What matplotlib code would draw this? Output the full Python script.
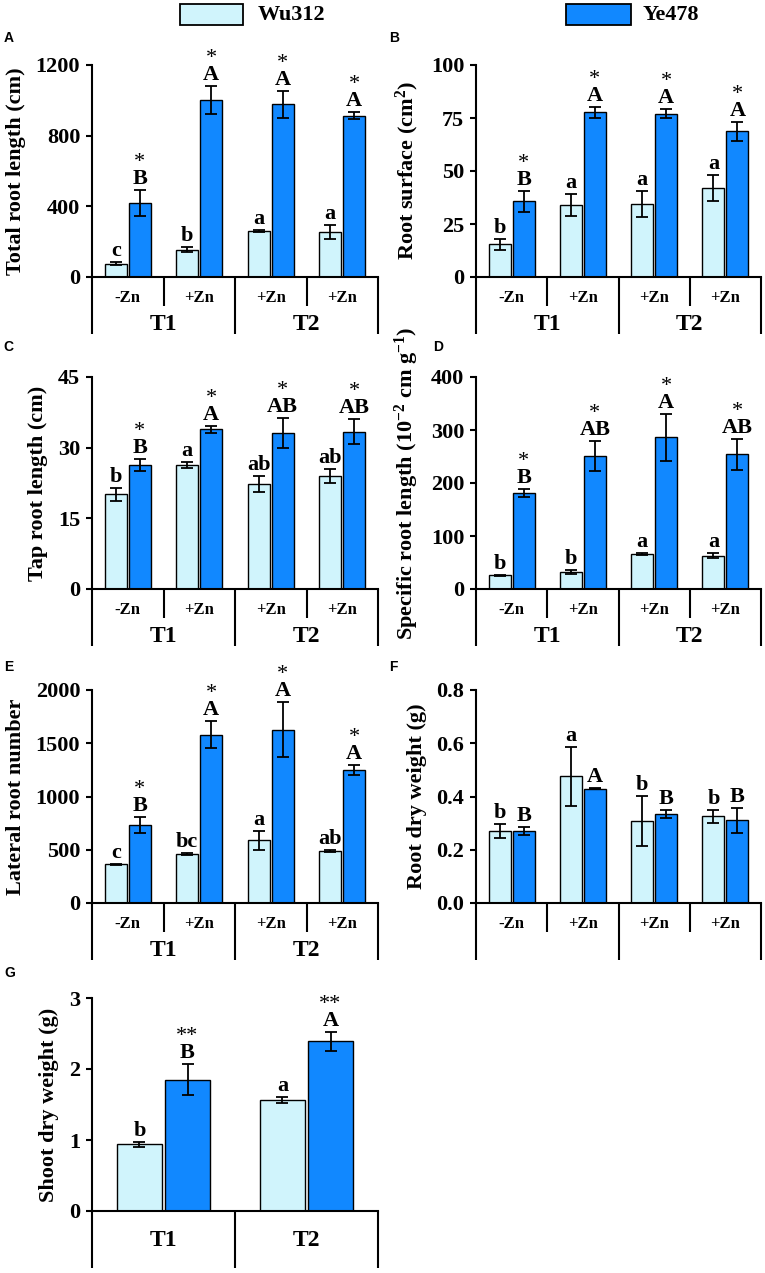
import matplotlib
matplotlib.use('Agg')
import matplotlib.pyplot as plt
import matplotlib.transforms as mtransforms
from matplotlib.patches import Rectangle
import numpy as np

plt.rcParams['font.family'] = ['Liberation Serif', 'DejaVu Serif']
plt.rcParams['font.weight'] = 'bold'
plt.rcParams['mathtext.default'] = 'regular'

W, H = 765, 1273
fig = plt.figure(figsize=(W / 100, H / 100), dpi=100)

LIGHT = '#D0F4FC'
DARK = '#1188FF'

series_names = ['Wu312', 'Ye478']
treat_labels = ['-Zn', '+Zn', '+Zn', '+Zn']
time_labels = ['T1', 'T2']

# ---- Panel A: Total root length (cm)
a_wu = [75, 155, 262, 255]
a_wu_err = [8, 15, 5, 38]
a_ye = [420, 1000, 977, 912]
a_ye_err = [75, 80, 75, 20]
a_wu_let = ['c', 'b', 'a', 'a']
a_ye_let = ['B', 'A', 'A', 'A']
a_stars = ['*', '*', '*', '*']
a_ticks = [0, 400, 800, 1200]

# ---- Panel B: Root surface (cm2)
b_wu = [15.5, 34, 34.5, 42]
b_wu_err = [2.6, 5, 6, 6]
b_ye = [35.8, 77.8, 77, 68.8]
b_ye_err = [5, 2.6, 2.2, 4.5]
b_wu_let = ['b', 'a', 'a', 'a']
b_ye_let = ['B', 'A', 'A', 'A']
b_stars = ['*', '*', '*', '*']
b_ticks = [0, 25, 50, 75, 100]

# ---- Panel C: Tap root length (cm)
c_wu = [20.1, 26.3, 22.3, 24.0]
c_wu_err = [1.4, 0.7, 1.7, 1.4]
c_ye = [26.3, 33.9, 33.1, 33.4]
c_ye_err = [1.3, 0.7, 3.2, 2.6]
c_wu_let = ['b', 'a', 'ab', 'ab']
c_ye_let = ['B', 'A', 'AB', 'AB']
c_stars = ['*', '*', '*', '*']
c_ticks = [0, 15, 30, 45]

# ---- Panel D: Specific root length
d_wu = [26, 32, 66, 63]
d_wu_err = [1, 4, 1, 5]
d_ye = [181, 251, 286, 254]
d_ye_err = [8, 28, 44, 29]
d_wu_let = ['b', 'b', 'a', 'a']
d_ye_let = ['B', 'AB', 'A', 'AB']
d_stars = ['*', '*', '*', '*']
d_ticks = [0, 100, 200, 300, 400]

# ---- Panel E: Lateral root number
e_wu = [362, 462, 588, 488]
e_wu_err = [8, 10, 88, 8]
e_ye = [735, 1580, 1628, 1245]
e_ye_err = [75, 125, 260, 47]
e_wu_let = ['c', 'bc', 'a', 'ab']
e_ye_let = ['B', 'A', 'A', 'A']
e_stars = ['*', '*', '*', '*']
e_ticks = [0, 500, 1000, 1500, 2000]

# ---- Panel F: Root dry weight (g)
f_wu = [0.271, 0.476, 0.307, 0.326]
f_wu_err = [0.025, 0.111, 0.094, 0.025]
f_ye = [0.271, 0.430, 0.334, 0.310]
f_ye_err = [0.015, 0.003, 0.015, 0.046]
f_wu_let = ['b', 'a', 'b', 'b']
f_ye_let = ['B', 'A', 'B', 'B']
f_stars = ['', '', '', '']
f_ticks = [0.0, 0.2, 0.4, 0.6, 0.8]

# ---- Panel G: Shoot dry weight (g)
g_wu = [0.94, 1.56]
g_wu_err = [0.035, 0.04]
g_ye = [1.85, 2.39]
g_ye_err = [0.22, 0.13]
g_wu_let = ['b', 'a']
g_ye_let = ['B', 'A']
g_stars = ['**', '**']
g_ticks = [0, 1, 2, 3]

OFF = 0.168
BW = 0.31


def make_ax(x0, x1, ytop, yzero):
    return fig.add_axes([x0 / W, 1 - yzero / H, (x1 - x0) / W, (yzero - ytop) / H])


def panel(ax, hpx, wu, wu_err, ye, ye_err, wu_let, ye_let, stars, ticks, ticklabels,
          ylabel, xlabels, tlabels, seps_short, seps_long, label_y_off, t_y_off):
    n = len(wu)
    x = np.arange(n)
    ax.bar(x - OFF, wu, BW, color=LIGHT, edgecolor='black', linewidth=1.0, zorder=2)
    ax.bar(x + OFF, ye, BW, color=DARK, edgecolor='black', linewidth=1.0, zorder=2)
    ax.errorbar(x - OFF, wu, yerr=wu_err, fmt='none', ecolor='black', elinewidth=1.3,
                capsize=4.5, capthick=1.3, zorder=3)
    ax.errorbar(x + OFF, ye, yerr=ye_err, fmt='none', ecolor='black', elinewidth=1.3,
                capsize=4.5, capthick=1.3, zorder=3)
    let_tr = mtransforms.offset_copy(ax.transData, fig=fig, y=6, units='dots')
    star_tr = mtransforms.offset_copy(ax.transData, fig=fig, y=23, units='dots')
    for i in range(n):
        ax.text(x[i] - OFF, wu[i] + wu_err[i], wu_let[i], transform=let_tr, ha='center',
                va='baseline', fontsize=16, fontweight='bold', clip_on=False)
        ax.text(x[i] + OFF, ye[i] + ye_err[i], ye_let[i], transform=let_tr, ha='center',
                va='baseline', fontsize=16, fontweight='bold', clip_on=False)
        if stars[i]:
            ax.text(x[i] + OFF, ye[i] + ye_err[i], stars[i], transform=star_tr, ha='center',
                    va='baseline', fontsize=16, fontweight='normal', clip_on=False)
    ax.set_xlim(-0.5, n - 0.5)
    ax.set_ylim(ticks[0], ticks[-1])
    ax.set_yticks(ticks)
    ax.set_yticklabels(ticklabels)
    ax.set_xticks([])
    for s in ['top', 'right']:
        ax.spines[s].set_visible(False)
    for s in ['left', 'bottom']:
        ax.spines[s].set_linewidth(1.5)
    ax.tick_params(axis='y', direction='out', length=4.5, width=1.5, labelsize=16, pad=4)
    for lab in ax.get_yticklabels():
        lab.set_fontweight('bold')
    ax.set_ylabel(ylabel, fontsize=16, fontweight='bold', labelpad=7)
    bl = mtransforms.blended_transform_factory(ax.transData, ax.transAxes)
    for xs in seps_short:
        ax.plot([xs, xs], [0, -29 / hpx], transform=bl, color='black', lw=1.5,
                clip_on=False, solid_capstyle='butt')
    for xs in seps_long:
        ax.plot([xs, xs], [0, -57 / hpx], transform=bl, color='black', lw=1.5,
                clip_on=False, solid_capstyle='butt')
    lab_tr = mtransforms.offset_copy(bl, fig=fig, y=-label_y_off, units='dots')
    for xi, t in xlabels:
        ax.text(xi, 0, t, transform=lab_tr, ha='center', va='center', fontsize=12,
                fontweight='bold')
    t_tr = mtransforms.offset_copy(bl, fig=fig, y=-t_y_off, units='dots')
    for xi, t in tlabels:
        ax.text(xi, 0, t, transform=t_tr, ha='center', va='center', fontsize=17,
                fontweight='bold')
    ax.set_xlim(-0.5, n - 0.5)
    ax.set_ylim(ticks[0], ticks[-1])


LX0, LX1 = 92, 378
RX0, RX1 = 476, 761
rows = [(65, 277), (377, 589), (690, 903), (998, 1211)]

four_x = [(i, treat_labels[i]) for i in range(4)]
four_t = [(0.5, time_labels[0]), (2.5, time_labels[1])]
short4 = [0.5, 2.5]
long4 = [-0.5, 1.5, 3.5]

specs = [
    (LX0, LX1, rows[0], a_wu, a_wu_err, a_ye, a_ye_err, a_wu_let, a_ye_let, a_stars, a_ticks,
     [str(t) for t in a_ticks], 'Total root length (cm)', four_t),
    (RX0, RX1, rows[0], b_wu, b_wu_err, b_ye, b_ye_err, b_wu_let, b_ye_let, b_stars, b_ticks,
     [str(t) for t in b_ticks], 'Root surface (cm$^{2}$)', four_t),
    (LX0, LX1, rows[1], c_wu, c_wu_err, c_ye, c_ye_err, c_wu_let, c_ye_let, c_stars, c_ticks,
     [str(t) for t in c_ticks], 'Tap root length (cm)', four_t),
    (RX0, RX1, rows[1], d_wu, d_wu_err, d_ye, d_ye_err, d_wu_let, d_ye_let, d_stars, d_ticks,
     [str(t) for t in d_ticks], 'Specific root length (10$^{-2}$ cm g$^{-1}$)', four_t),
    (LX0, LX1, rows[2], e_wu, e_wu_err, e_ye, e_ye_err, e_wu_let, e_ye_let, e_stars, e_ticks,
     [str(t) for t in e_ticks], 'Lateral root number', four_t),
    (RX0, RX1, rows[2], f_wu, f_wu_err, f_ye, f_ye_err, f_wu_let, f_ye_let, f_stars, f_ticks,
     ['%.1f' % t for t in f_ticks], 'Root dry weight (g)', []),
]

for (x0, x1, (yt, yz), wu, wue, ye, yee, wl, yl, st, tk, tkl, ylab, tl) in specs:
    ax = make_ax(x0, x1, yt, yz)
    panel(ax, yz - yt, wu, wue, ye, yee, wl, yl, st, tk, tkl, ylab, four_x, tl,
          short4, long4, 21, 47)

# Panel G
yt, yz = rows[3]
axg = make_ax(LX0, LX1, yt, yz)
panel(axg, yz - yt, g_wu, g_wu_err, g_ye, g_ye_err, g_wu_let, g_ye_let, g_stars, g_ticks,
      [str(t) for t in g_ticks], 'Shoot dry weight (g)', [],
      [(0, time_labels[0]), (1, time_labels[1])], [], [-0.5, 0.5, 1.5], 21, 29)

# Panel letters
for (px, py, L) in [(4, 38, 'A'), (389, 38, 'B'), (3, 347, 'C'), (433, 347, 'D'),
                    (4, 667, 'E'), (389, 667, 'F'), (4, 973, 'G')]:
    fig.text(px / W, 1 - py / H, L, ha='left', va='center', fontsize=10,
             fontweight='bold', family=['Liberation Sans', 'DejaVu Sans'])

# Legend
for (bx0, bx1, tx, name, col) in [(180, 243, 258, series_names[0], LIGHT),
                                  (566, 631, 643, series_names[1], DARK)]:
    fig.patches.append(Rectangle((bx0 / W, 1 - 25 / H), (bx1 - bx0) / W, 21 / H,
                                 transform=fig.transFigure, facecolor=col,
                                 edgecolor='black', linewidth=1.3))
    fig.text(tx / W, 1 - 15 / H, name, ha='left', va='center', fontsize=16,
             fontweight='bold')

fig.savefig('out.png', dpi=100)
